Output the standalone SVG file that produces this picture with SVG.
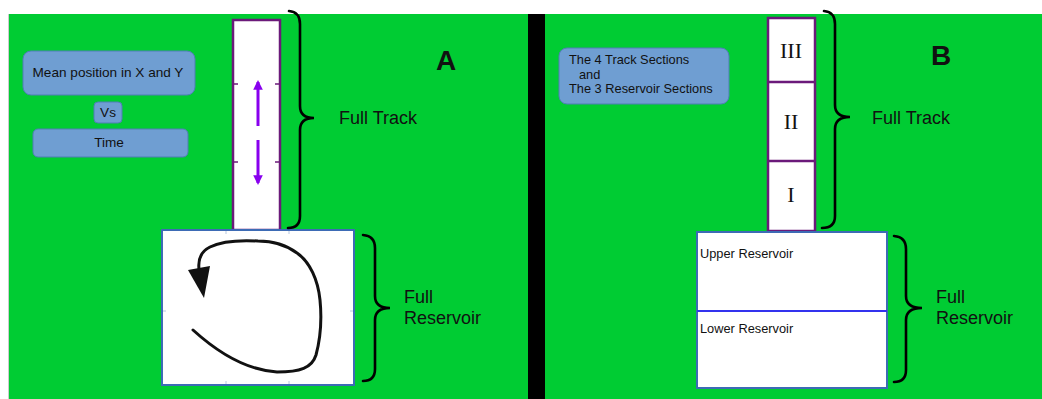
<svg xmlns="http://www.w3.org/2000/svg" width="1042" height="399" viewBox="0 0 1042 399">
<defs>
<style>
.bg{fill:#00cc33}
.lbl{fill:#6f9ed2;stroke:#4f7fb5;stroke-width:1}
.t{font-family:"Liberation Sans",Arial,sans-serif;fill:#111}
.rom{font-family:"Liberation Serif","Times New Roman",serif;fill:#111;font-size:22px}
.track{fill:#fff;stroke:#6b1a7a;stroke-width:2.5}
.res{fill:#fff;stroke:#3d6bb5;stroke-width:2}
.brace{fill:none;stroke:#000;stroke-width:2.6;stroke-linecap:round}
.tick{stroke:#6b1a7a;stroke-width:1.5}
.pa{stroke:#8800ee;stroke-width:3}
</style>
<marker id="pah" viewBox="0 0 10 10" refX="8" refY="5" markerWidth="3.2" markerHeight="3.2" orient="auto"><path d="M0,0 L10,5 L0,10 z" fill="#8800ee"/></marker>
</defs>
<rect width="1042" height="399" fill="#fff"/>
<rect x="8" y="14" width="1" height="385" fill="#ccc"/>
<rect class="bg" x="9" y="14" width="519" height="385"/>
<rect x="528" y="14" width="17" height="385" fill="#000"/>
<rect class="bg" x="545" y="14" width="497" height="385"/>

<g id="panelA">
<g id="mean"><rect class="lbl" x="23" y="51" width="172" height="44" rx="8"/><text class="t" x="108" y="77" font-size="13.6" text-anchor="middle">Mean position in X and Y</text></g>
<g id="vs"><rect class="lbl" x="94" y="102" width="28" height="21" rx="4"/><text class="t" x="108" y="117" font-size="13.6" text-anchor="middle">Vs</text></g>
<g id="time"><rect class="lbl" x="33" y="129" width="155" height="28" rx="5"/><text class="t" x="109" y="147" font-size="13.6" text-anchor="middle">Time</text></g>
<g id="trackA">
<rect class="track" x="233" y="20" width="47" height="210"/>
<line class="tick" x1="233" y1="84" x2="238" y2="84"/><line class="tick" x1="275" y1="84" x2="280" y2="84"/>
<line class="tick" x1="233" y1="162" x2="238" y2="162"/><line class="tick" x1="275" y1="162" x2="280" y2="162"/>
<line class="pa" x1="258" y1="126" x2="258" y2="82" marker-end="url(#pah)"/>
<line class="pa" x1="258" y1="140" x2="258" y2="183" marker-end="url(#pah)"/>
</g>
<g id="reservoirA">
<rect class="res" x="162" y="230" width="192" height="155"/>
<g stroke="#b8c8e0" stroke-width="1"><line x1="226" y1="231" x2="226" y2="234"/><line x1="289" y1="231" x2="289" y2="234"/><line x1="226" y1="381" x2="226" y2="384"/><line x1="289" y1="381" x2="289" y2="384"/><line x1="163" y1="311" x2="166" y2="311"/><line x1="350" y1="311" x2="353" y2="311"/></g>
<path d="M193,330 C215,350 245,370 277,372 C300,372 312,368 316,355 C320,340 322,320 320,300 C318,280 310,262 297,253 C285,244 270,241 258,241 C240,240 222,241 210,247 C200,252 198,260 199,269" fill="none" stroke="#111" stroke-width="3" stroke-linecap="round"/>
<path d="M188,270 L210,266 L204,298 z" fill="#111"/>
</g>
<path class="brace" d="M289,11 Q300,12 300,24 L300,106 Q300,118 314,118 Q300,118 300,130 L300,216 Q300,228 288,228"/>
<text class="t" x="339" y="124" font-size="18">Full Track</text>
<path class="brace" d="M363,235 Q375,236 375,248 L375,296 Q375,308 390,308 Q375,308 375,320 L375,369 Q375,381 363,381"/>
<text class="t" x="404" y="303" font-size="18">Full</text>
<text class="t" x="404" y="324" font-size="18">Reservoir</text>
<text class="t" x="446" y="70" font-size="28" font-weight="bold" text-anchor="middle">A</text>
</g>

<g id="panelB">
<g id="sections"><rect class="lbl" x="559" y="48" width="170" height="56" rx="8"/>
<text class="t" font-size="12.8"><tspan x="569" y="64">The 4 Track Sections</tspan><tspan x="579" y="79">and</tspan><tspan x="569" y="93">The 3 Reservoir Sections</tspan></text></g>
<g id="trackB">
<rect class="track" x="768" y="18" width="47" height="213"/>
<line class="track" x1="768" y1="82" x2="815" y2="82"/>
<line class="track" x1="768" y1="161" x2="815" y2="161"/>
<text class="rom" x="791" y="58" text-anchor="middle">III</text>
<text class="rom" x="791" y="129" text-anchor="middle">II</text>
<text class="rom" x="791" y="202" text-anchor="middle">I</text>
</g>
<g id="reservoirB">
<rect class="res" x="697" y="232" width="190" height="156"/>
<line x1="697" y1="311" x2="887" y2="311" stroke="#3333ee" stroke-width="2"/>
<text class="t" x="700" y="258" font-size="12.8">Upper Reservoir</text>
<text class="t" x="700" y="333" font-size="12.8">Lower Reservoir</text>
</g>
<path class="brace" d="M824,11 Q835,12 835,24 L835,105 Q835,117 850,117 Q835,117 835,129 L835,216 Q835,228 822,228"/>
<text class="t" x="872" y="124" font-size="18">Full Track</text>
<path class="brace" d="M894,236 Q906,237 906,249 L906,296 Q906,308 922,308 Q906,308 906,320 L906,370 Q906,382 894,382"/>
<text class="t" x="936" y="303" font-size="18">Full</text>
<text class="t" x="936" y="324" font-size="18">Reservoir</text>
<text class="t" x="941" y="65" font-size="28" font-weight="bold" text-anchor="middle">B</text>
</g>
</svg>
